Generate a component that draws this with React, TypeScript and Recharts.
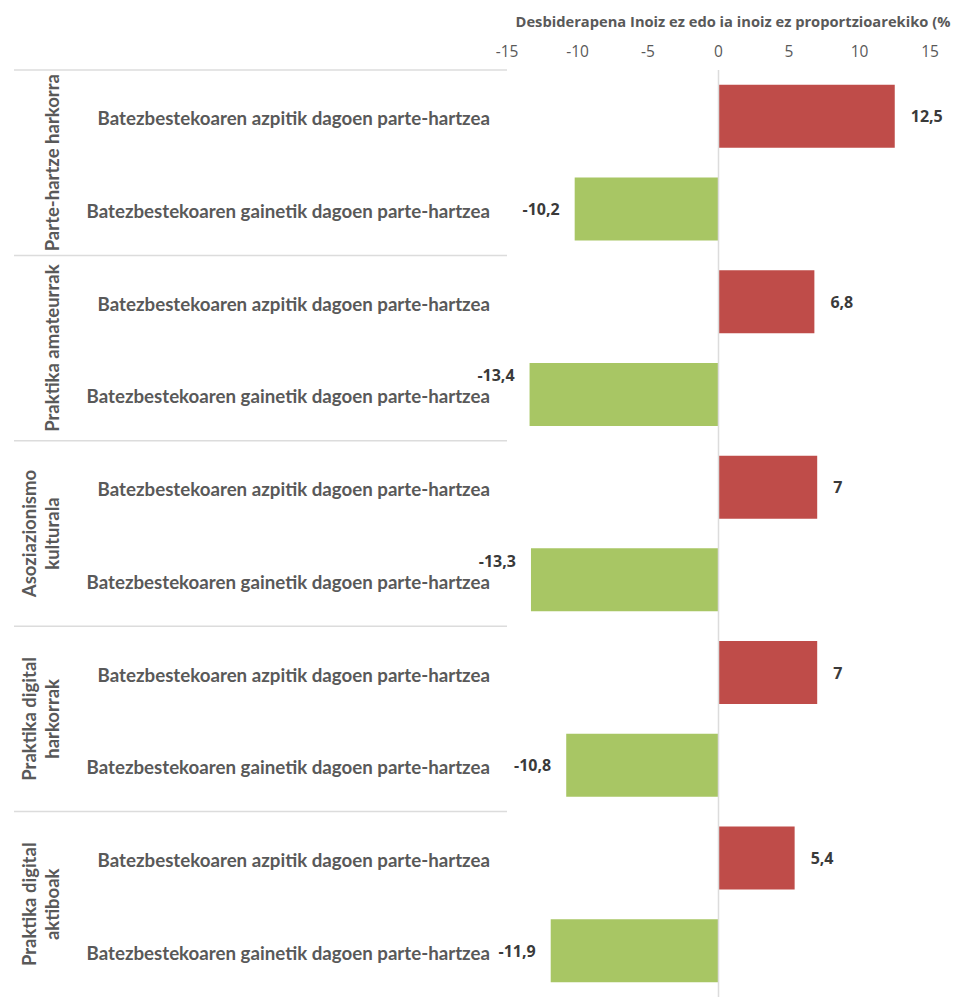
import React from "react";
import {
  BarChart,
  Bar,
  XAxis,
  YAxis,
  Cell,
  LabelList,
  ReferenceLine,
} from "recharts";

const GROUPS = [
  "Parte-hartze harkorra",
  "Praktika amateurrak",
  "Asoziazionismo kulturala",
  "Praktika digital harkorrak",
  "Praktika digital aktiboak",
];

// how each group label wraps in the original
const GROUP_LINES = [
  ["Parte-hartze harkorra"],
  ["Praktika amateurrak"],
  ["Asoziazionismo", "kulturala"],
  ["Praktika digital", "harkorrak"],
  ["Praktika digital", "aktiboak"],
];

const ROW_LABELS = [
  "Batezbestekoaren azpitik dagoen parte-hartzea",
  "Batezbestekoaren gainetik dagoen parte-hartzea",
];

const BELOW_AVG = [12.5, 6.8, 7, 7, 5.4];
const ABOVE_AVG = [-10.2, -13.4, -13.3, -10.8, -11.9];

const X_TICKS = [-15, -10, -5, 0, 5, 10, 15];
const TITLE = "Desbiderapena Inoiz ez edo ia inoiz ez proportzioarekiko (%";

const RED = "#bf4c49";
const GREEN = "#a8c664";
const GRID = "#dcdcdc";
const TEXT = "#595959";

const W = 957;
const H = 997;
const PLOT_TOP = 70;
const PLOT_LEFT = 507;
const GROUP_AXIS_LEFT = 14;
const GROUP_AXIS_W = 56;

const data = GROUPS.flatMap((g, i) => [
  { key: `${i}-a`, group: g, label: ROW_LABELS[0], value: BELOW_AVG[i], kind: 0 },
  { key: `${i}-b`, group: g, label: ROW_LABELS[1], value: ABOVE_AVG[i], kind: 1 },
]);

function CategoryTick(props: any) {
  const { y, payload } = props;
  const idx = payload.index ?? 0;
  return (
    <text
      x={PLOT_LEFT - 17}
      y={y + 2}
      textAnchor="end"
      dominantBaseline="central"
      fontFamily="Lato, sans-serif"
      fontWeight={700}
      fontSize={18.7}
      fill={TEXT}
    >
      {data[idx] ? data[idx].label : payload.value}
    </text>
  );
}

function GroupTick(props: any) {
  const { y, payload } = props;
  const gi = GROUPS.indexOf(payload.value);
  const lines = GROUP_LINES[gi] || [payload.value];
  const half = payload.offset || (H - PLOT_TOP) / GROUPS.length / 2;
  const lastX = 52;
  return (
    <g>
      <line
        x1={GROUP_AXIS_LEFT}
        x2={PLOT_LEFT}
        y1={y - half}
        y2={y - half}
        stroke={GRID}
        strokeWidth={1.5}
      />
      {lines.map((ln, i) => {
        const lx = lastX - (lines.length - 1 - i) * 23;
        return (
          <text
            key={i}
            x={lx}
            y={y}
            transform={`rotate(-90, ${lx}, ${y})`}
            textAnchor="middle"
            dominantBaseline="central"
            fontFamily="Lato, sans-serif"
            fontWeight={700}
            fontSize={18.5}
            fill={TEXT}
          >
            {ln}
          </text>
        );
      })}
    </g>
  );
}

function ValueLabel(props: any) {
  const { x, y, width, height, value } = props;
  const end = x + width;
  const txt = String(value).replace(".", ",");
  const cy = y + height / 2;
  if (value >= 0) {
    return (
      <text
        x={end + 16}
        y={cy}
        dominantBaseline="central"
        fontFamily="'Open Sans', sans-serif"
        fontWeight={700}
        fontSize={16}
        fill="#3a3a3a"
      >
        {txt}
      </text>
    );
  }
  const right = end - 15;
  // Excel nudges labels up when they would run into the category text
  const clash = right - txt.length * 8.5 < 490;
  return (
    <text
      x={right}
      y={clash ? cy - 19 : cy}
      textAnchor="end"
      dominantBaseline="central"
      fontFamily="'Open Sans', sans-serif"
      fontWeight={700}
      fontSize={16}
      fill="#3a3a3a"
    >
      {txt}
    </text>
  );
}

function TitleLabel() {
  return (
    <text
      x={733}
      y={21}
      textAnchor="middle"
      dominantBaseline="central"
      fontFamily="'Open Sans', sans-serif"
      fontWeight={700}
      fontSize={14.7}
      fill={TEXT}
    >
      {TITLE}
    </text>
  );
}

export default function App() {
  return (
    <div style={{ position: "absolute", left: 0, top: 0, width: W, height: H, background: "#fff" }}>
      <BarChart
        width={W}
        height={H}
        data={data}
        layout="vertical"
        margin={{ top: 0, right: 27, bottom: 0, left: GROUP_AXIS_LEFT }}
        barCategoryGap="16%"
      >
        <XAxis
          type="number"
          orientation="top"
          domain={[-15, 15]}
          ticks={X_TICKS}
          height={PLOT_TOP}
          axisLine={false}
          tickLine={false}
          tickSize={0}
          tickMargin={13}
          tick={{ fill: TEXT, fontSize: 15.5, fontFamily: "'Open Sans', sans-serif" }}
          label={<TitleLabel />}
        />
        <YAxis
          yAxisId="row"
          type="category"
          dataKey="key"
          width={PLOT_LEFT - GROUP_AXIS_LEFT - GROUP_AXIS_W}
          axisLine={false}
          tickLine={false}
          tickSize={0}
          interval={0}
          tick={<CategoryTick />}
        />
        <YAxis
          yAxisId="group"
          type="category"
          dataKey="group"
          allowDuplicatedCategory={false}
          width={GROUP_AXIS_W}
          axisLine={false}
          tickLine={false}
          interval={0}
          tick={<GroupTick />}
        />
        <ReferenceLine x={0} yAxisId="row" stroke={GRID} strokeWidth={1.5} />
        <Bar dataKey="value" yAxisId="row" isAnimationActive={false}>
          {data.map((d) => (
            <Cell key={d.key} fill={d.kind === 0 ? RED : GREEN} />
          ))}
          <LabelList dataKey="value" content={<ValueLabel />} />
        </Bar>
      </BarChart>
    </div>
  );
}
